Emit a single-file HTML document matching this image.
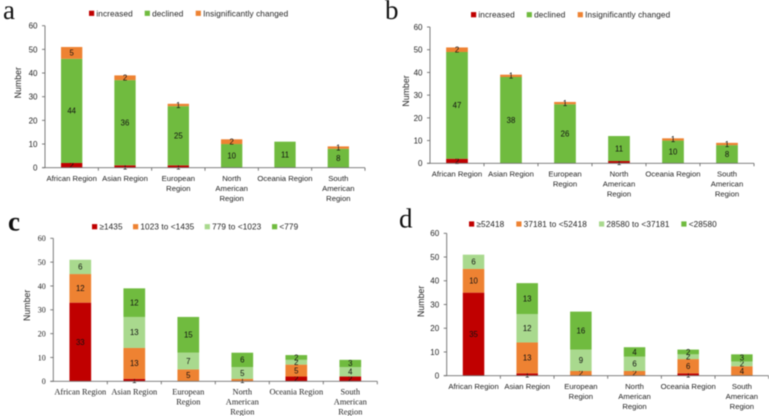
<!DOCTYPE html>
<html>
<head>
<meta charset="utf-8">
<title>Regional stacked bar charts</title>
<style>
html,body{margin:0;padding:0;background:#fff;width:769px;height:416px;overflow:hidden}
svg{display:block;filter:blur(0.45px)}
text{font-family:"Liberation Sans",sans-serif;fill:#222}
.serif{font-family:"Liberation Serif",serif}
</style>
</head>
<body>
<svg id="figure" width="769" height="416" viewBox="0 0 769 416" xmlns="http://www.w3.org/2000/svg"></svg>
<script>
const categoryLines = [
  ['African Region'],
  ['Asian Region'],
  ['European', 'Region'],
  ['North', 'American', 'Region'],
  ['Oceania Region'],
  ['South', 'American', 'Region']
];
const yTicks = [0, 10, 20, 30, 40, 50, 60];

const seriesNamesAB = ['increased', 'declined', 'Insignificantly changed'];
const seriesNamesC = ['≥1435', '1023 to <1435', '779 to <1023', '<779'];
const seriesNamesD = ['≥52418', '37181 to <52418', '28580 to <37181', '<28580'];

const aIncreased = [2, 1, 1, 0, 0, 0];
const aDeclined = [44, 36, 25, 10, 11, 8];
const aInsignificant = [5, 2, 1, 2, 0, 1];

const bIncreased = [2, 0, 0, 1, 0, 0];
const bDeclined = [47, 38, 26, 11, 10, 8];
const bInsignificant = [2, 1, 1, 0, 1, 1];

const cHighest = [33, 1, 0, 0, 2, 2];
const cUpper = [12, 13, 5, 1, 5, 0];
const cLower = [6, 13, 7, 5, 2, 4];
const cLowest = [0, 12, 15, 6, 2, 3];

const dHighest = [35, 1, 0, 0, 1, 0];
const dUpper = [10, 13, 2, 2, 6, 4];
const dLower = [6, 12, 9, 6, 2, 2];
const dLowest = [0, 13, 16, 4, 2, 3];

const RED = '#c00000', GREEN = '#70bb3f', ORANGE = '#ee8232', LIGHT = '#a9d98e';
const NS = 'http://www.w3.org/2000/svg';
const root = document.getElementById('figure');

function make(parent, tag, attrs, content) {
  const el = document.createElementNS(NS, tag);
  for (const k in attrs) el.setAttribute(k, attrs[k]);
  if (content !== undefined) el.textContent = content;
  parent.appendChild(el);
  return el;
}

function drawPanel(p) {
  const g = make(root, 'g', {});
  
  
  const axisClass = p.serifAxis ? 'serif' : '';
  const yScale = v => p.y0 + (p.y60 - p.y0) * v / 60;
  const xStep = (p.right - p.left) / categoryLines.length;
  const xCenter = i => p.left + xStep * (i + 0.5);

  const letter = make(g, 'text', {x: p.letterX, y: p.letterY, class: 'serif', 'font-size': 27, style: 'fill:#111;font-weight:' + (p.id === 'c' ? 'bold' : 'normal')}, p.id);
  
  

  // legend
  p.names.forEach((name, s) => {
    const sw = make(g, 'rect', {x: p.legendX[s], y: p.legendY - 2.6, width: 5.2, height: 5.2, fill: p.colors[s]});
    
    
    const lt = make(g, 'text', {x: p.legendX[s] + 7.4, y: p.legendY + 3, 'font-size': 8.2, 'letter-spacing': 0.1}, name);
    
    
  });

  // bars
  categoryLines.forEach((lines, i) => {
    let total = 0;
    p.series.forEach((values, s) => {
      const v = values[i];
      if (!v) return;
      const top = yScale(total + v), bottom = yScale(total);
      const bar = make(g, 'rect', {x: xCenter(i) - p.barW / 2, y: top, width: p.barW, height: bottom - top, fill: p.colors[s]});
      
      
      const lab = make(g, 'text', {x: xCenter(i), y: (top + bottom) / 2 + 2.8, 'font-size': 7.8, 'text-anchor': 'middle', style: 'fill:#111'}, v);
      
      
      total += v;
    });
  });

  // axes
  const yAxis = make(g, 'line', {x1: p.left, x2: p.left, y1: yScale(0), y2: yScale(60), stroke: '#6f6f6f', 'stroke-width': 0.9});
  
  
  const xAxis = make(g, 'line', {x1: p.left - 3, x2: p.right, y1: yScale(0), y2: yScale(0), stroke: '#6f6f6f', 'stroke-width': 0.9});
  
  

  yTicks.forEach(t => {
    const tm = make(g, 'line', {x1: p.left - 3, x2: p.left, y1: yScale(t), y2: yScale(t), stroke: '#6f6f6f', 'stroke-width': 0.9});
    
    
    const tl = make(g, 'text', {x: p.left - 7.5, y: yScale(t) + 2.9, 'font-size': 8, 'text-anchor': 'end', class: axisClass}, t);
    
    
  });

  categoryLines.forEach((lines, i) => {
    const tm = make(g, 'line', {x1: p.left + xStep * (i + 1), x2: p.left + xStep * (i + 1), y1: yScale(0), y2: yScale(0) + 3, stroke: '#6f6f6f', 'stroke-width': 0.9});
    
    
    lines.forEach((line, l) => {
      const cl = make(g, 'text', {x: xCenter(i), y: yScale(0) + 13.4 + l * 10, 'font-size': p.serifAxis ? 8.4 : 7.7, 'text-anchor': 'middle', class: axisClass}, line);
      
      
    });
  });

  const title = make(g, 'text', {x: 0, y: 0, 'font-size': 8.8, 'text-anchor': 'middle', transform: 'translate(' + p.titleX + ',' + p.titleY + ') rotate(-90)'}, 'Number');
  
  
}

drawPanel({id: 'a', names: seriesNamesAB, series: [aIncreased, aDeclined, aInsignificant], colors: [RED, GREEN, ORANGE],
  left: 45, right: 365, y0: 167.7, y60: 25.7, barW: 21.3, letterX: 3, letterY: 19,
  legendX: [89, 144.7, 195.7], legendY: 13.3, titleX: 21, titleY: 82.7});
drawPanel({id: 'b', names: seriesNamesAB, series: [bIncreased, bDeclined, bInsignificant], colors: [RED, GREEN, ORANGE],
  left: 430, right: 754, y0: 163.3, y60: 27, barW: 21.7, letterX: 385, letterY: 19,
  legendX: [471, 526.7, 577.7], legendY: 14.7, titleX: 409, titleY: 91});
drawPanel({id: 'c', names: seriesNamesC, series: [cHighest, cUpper, cLower, cLowest], colors: [RED, ORANGE, LIGHT, GREEN], serifAxis: true,
  left: 53.3, right: 377.3, y0: 381.3, y60: 238.3, barW: 21.7, letterX: 8, letterY: 230.7,
  legendX: [92, 133, 204.7, 272], legendY: 226.7, titleX: 30, titleY: 305.3});
drawPanel({id: 'd', names: seriesNamesD, series: [dHighest, dUpper, dLower, dLowest], colors: [RED, ORANGE, LIGHT, GREEN],
  left: 446.7, right: 768.7, y0: 375.7, y60: 233.3, barW: 21.5, letterX: 399, letterY: 227.3,
  legendX: [469, 516.3, 599, 681.3], legendY: 224, titleX: 424, titleY: 301.3});
</script>
</body>
</html>
